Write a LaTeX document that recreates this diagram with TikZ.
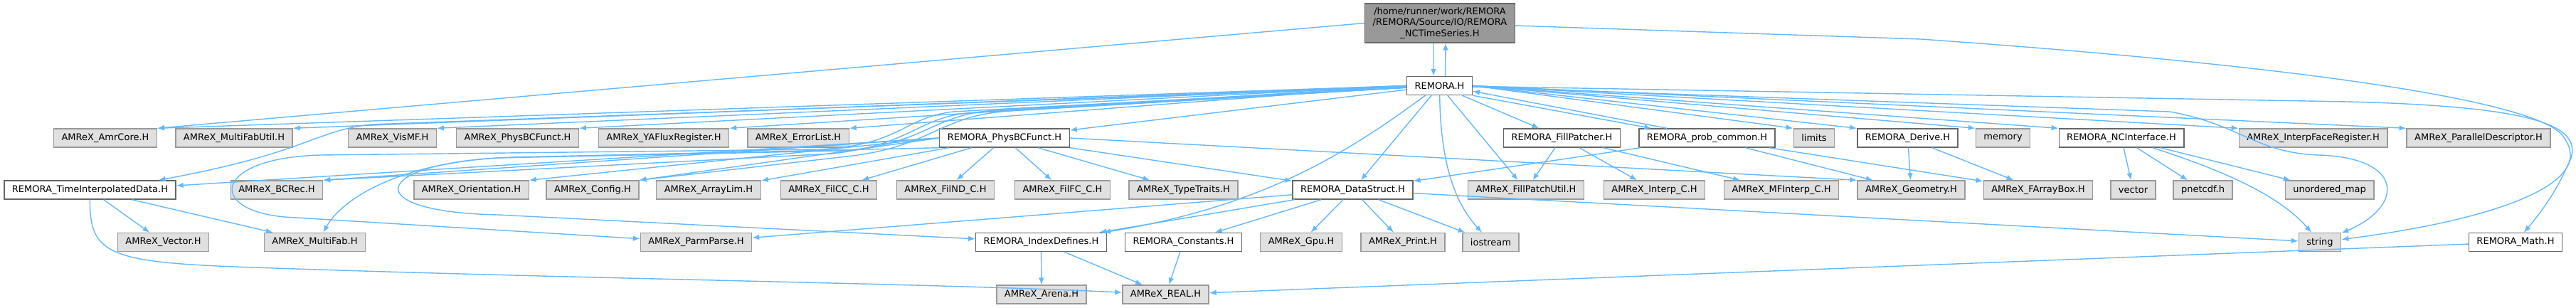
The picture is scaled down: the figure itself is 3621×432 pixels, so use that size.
\documentclass[tikz,border=0pt]{standalone}
\usepackage{fontspec}
\setmainfont{DejaVu Sans}
\usepackage{tikz}
\usetikzlibrary{shapes,arrows.meta,positioning,calc}
\usepackage{xcolor}
\definecolor{edgeblue}{HTML}{63B8FF}
\definecolor{sysfill}{HTML}{E0E0E0}
\definecolor{sysline}{HTML}{999999}
\definecolor{hdrline}{HTML}{666666}

\begin{document}
\begin{tikzpicture}[x=0.01cm, y=-0.01cm,
    hd/.style={rectangle, draw=hdrline, fill=white, line width=0.4pt, minimum height=0.26cm, inner xsep=0.11cm, inner ysep=0pt, font=\fontsize{3.7}{4.5}\selectfont},
    sy/.style={hd, draw=sysline, fill=sysfill},
    cur/.style={hd, fill=sysline, align=center, minimum height=0.55cm},
    inc/.style={-{Latex[length=2.8pt,width=2.2pt]}, draw=edgeblue, line width=0.4pt}
]
\useasboundingbox (0,0) rectangle (3621,432);
\node[cur] (top) at (2024,32.5) {/home/runner/work/REMORA\\/REMORA/Source/IO/REMORA\\\_NCTimeSeries.H};
\node[hd] (remora) at (2023.5,120.5) {REMORA.H};
\node[sy] (amrcore) at (148,194) {AMReX\_AmrCore.H};
\node[sy] (mfutil) at (329,194) {AMReX\_MultiFabUtil.H};
\node[sy] (vismf) at (551.5,194) {AMReX\_VisMF.H};
\node[sy] (physbc) at (727.5,194) {AMReX\_PhysBCFunct.H};
\node[sy] (yaflux) at (933,194) {AMReX\_YAFluxRegister.H};
\node[sy] (errlist) at (1122,194) {AMReX\_ErrorList.H};
\node[hd] (rphysbc) at (1412,194) {REMORA\_PhysBCFunct.H};
\node[hd] (fpatcher) at (2195.5,194) {REMORA\_FillPatcher.H};
\node[hd] (prob) at (2399.5,194) {REMORA\_prob\_common.H};
\node[sy] (limits) at (2550,194) {limits};
\node[hd] (derive) at (2681.5,194) {REMORA\_Derive.H};
\node[sy] (memory) at (2815.5,194) {memory};
\node[hd] (ncint) at (2982,194) {REMORA\_NCInterface.H};
\node[sy] (ifreg) at (3251.5,194) {AMReX\_InterpFaceRegister.H};
\node[sy] (pardesc) at (3484,194) {AMReX\_ParallelDescriptor.H};
\node[hd] (ti) at (126.5,267) {REMORA\_TimeInterpolatedData.H};
\node[sy] (bcrec) at (389,267) {AMReX\_BCRec.H};
\node[sy] (orient) at (662.5,267) {AMReX\_Orientation.H};
\node[sy] (config) at (833,267) {AMReX\_Config.H};
\node[sy] (arrlim) at (996,267) {AMReX\_ArrayLim.H};
\node[sy] (filcc) at (1165,267) {AMReX\_FilCC\_C.H};
\node[sy] (filnd) at (1329,267) {AMReX\_FilND\_C.H};
\node[sy] (filfc) at (1493.5,267) {AMReX\_FilFC\_C.H};
\node[sy] (ttraits) at (1663.5,267) {AMReX\_TypeTraits.H};
\node[hd] (dstruct) at (1901.5,267) {REMORA\_DataStruct.H};
\node[sy] (fpu) at (2145,267) {AMReX\_FillPatchUtil.H};
\node[sy] (interpc) at (2325.5,267) {AMReX\_Interp\_C.H};
\node[sy] (mfinterp) at (2504,267) {AMReX\_MFInterp\_C.H};
\node[sy] (geom) at (2686.5,267) {AMReX\_Geometry.H};
\node[sy] (fab) at (2865,267) {AMReX\_FArrayBox.H};
\node[sy] (vec) at (2998.5,267) {vector};
\node[sy] (pnetcdf) at (3096.5,267) {pnetcdf.h};
\node[sy] (umap) at (3274.5,267) {unordered\_map};
\node[sy] (avec) at (229.5,340.5) {AMReX\_Vector.H};
\node[sy] (mf) at (442.5,340.5) {AMReX\_MultiFab.H};
\node[sy] (pp) at (978.5,340.5) {AMReX\_ParmParse.H};
\node[hd] (idx) at (1463.5,340.5) {REMORA\_IndexDefines.H};
\node[hd] (consts) at (1663.5,340.5) {REMORA\_Constants.H};
\node[sy] (gpu) at (1829,340.5) {AMReX\_Gpu.H};
\node[sy] (print) at (1972,340.5) {AMReX\_Print.H};
\node[sy] (iostr) at (2095.5,340.5) {iostream};
\node[sy] (str) at (3261,340.5) {string};
\node[hd] (math) at (3536,340.5) {REMORA\_Math.H};
\node[sy] (arena) at (1464,414) {AMReX\_Arena.H};
\node[sy] (real) at (1638.5,414) {AMReX\_REAL.H};
\draw[inc] ([xshift=-0.09cm]top.south) -- ([xshift=-0.085cm]remora.north);
\draw[inc] ([xshift=0.08cm]remora.north) -- ([xshift=0.08cm]top.south);
\draw[inc] (top.west) -- (amrcore.north east);
\draw[inc] (top) -- (2700,55) .. controls (3200,90) and (3580,140) .. (3605,195) .. controls (3650,260) and (3500,310) .. (str);
\foreach \n in {amrcore,mfutil,vismf,physbc,yaflux,errlist}
  \draw[inc] (remora.west) -- (\n.north east);
\foreach \n in {limits,derive,memory,ncint,ifreg,pardesc}
  \draw[inc] (remora.east) -- (\n.north west);
\foreach \n in {rphysbc,fpatcher,dstruct,fpu}
  \draw[inc] (remora) -- (\n);
\draw[inc] (remora) -- (520,175) .. controls (440,185) and (430,215) .. ([xshift=-0.25cm]ti.north east);
\draw[inc] (remora) -- (1340,157) .. controls (1270,165) and (1265,205) .. (1150,210) -- (450,218) .. controls (300,222) and (290,295) .. (400,305) -- (pp);
\draw[inc] (remora) -- (1400,155) .. controls (1310,160) and (1300,205) .. (1180,212) -- (700,222) .. controls (560,230) and (480,280) .. ([xshift=0.12cm]mf.north);
\draw[inc] (remora) -- (1370,158) .. controls (1290,163) and (1285,203) .. (1170,216) -- (bcrec.north east);
\draw[inc] (remora) -- (1420,156) .. controls (1320,162) and (1310,207) .. (1190,220) -- (config.north east);
\draw[inc] ([xshift=-0.2cm]remora.south) .. controls (1900,210) and (1780,290) .. ([xshift=-0.05cm]idx.north east);
\draw[inc] (remora) .. controls (2025,230) and (2045,285) .. (iostr);
\draw[inc] (remora.south east) -- ([xshift=0.18cm]prob.north west);
\draw[inc] ([xshift=0.4cm]prob.north west) -- ([yshift=0.06cm]remora.south east);
\draw[inc] (remora) -- (3050,157) .. controls (3150,175) and (3170,215) .. (3260,218) .. controls (3380,222) and (3380,290) .. (str);
\draw[inc] (remora) -- (3300,143) .. controls (3580,150) and (3640,180) .. (3608,235) .. controls (3595,265) and (3575,295) .. (math);
\draw[inc] (rphysbc.west) -- ([yshift=0.06cm]ti.east);
\foreach \n in {bcrec,orient,config}
  \draw[inc] (rphysbc.west) -- (\n.north east);
\foreach \n in {arrlim,filcc,filnd,filfc,ttraits,dstruct}
  \draw[inc] (rphysbc) -- (\n);
\draw[inc] (rphysbc.east) -- (geom.north west);
\draw[inc] (rphysbc.south west) -- (720,221) .. controls (520,228) and (500,298) .. (700,302) -- (idx);
\foreach \n in {pp,idx,consts,gpu,print,iostr,str}
  \draw[inc] (dstruct) -- (\n);
\foreach \n in {fpu,interpc,mfinterp}
  \draw[inc] (fpatcher) -- (\n);
\foreach \n in {dstruct,geom,fab}
  \draw[inc] (prob) -- (\n);
\foreach \n in {geom,fab}
  \draw[inc] (derive) -- (\n);
\foreach \n in {vec,pnetcdf,umap}
  \draw[inc] (ncint) -- (\n);
\draw[inc] ([xshift=0.44cm]ncint.south) .. controls (3110,235) and (3200,270) .. (str);
\draw[inc] (idx) -- (arena);
\draw[inc] (idx) -- (real);
\draw[inc] (consts) -- (real);
\draw[inc] (math) -- (real);
\draw[inc] (ti) -- (avec);
\draw[inc] (ti) -- (mf);
\draw[inc] (ti) .. controls (126,355) and (150,368) .. (330,375) .. controls (800,392) and (1300,398) .. (real);
\end{tikzpicture}
\end{document}
